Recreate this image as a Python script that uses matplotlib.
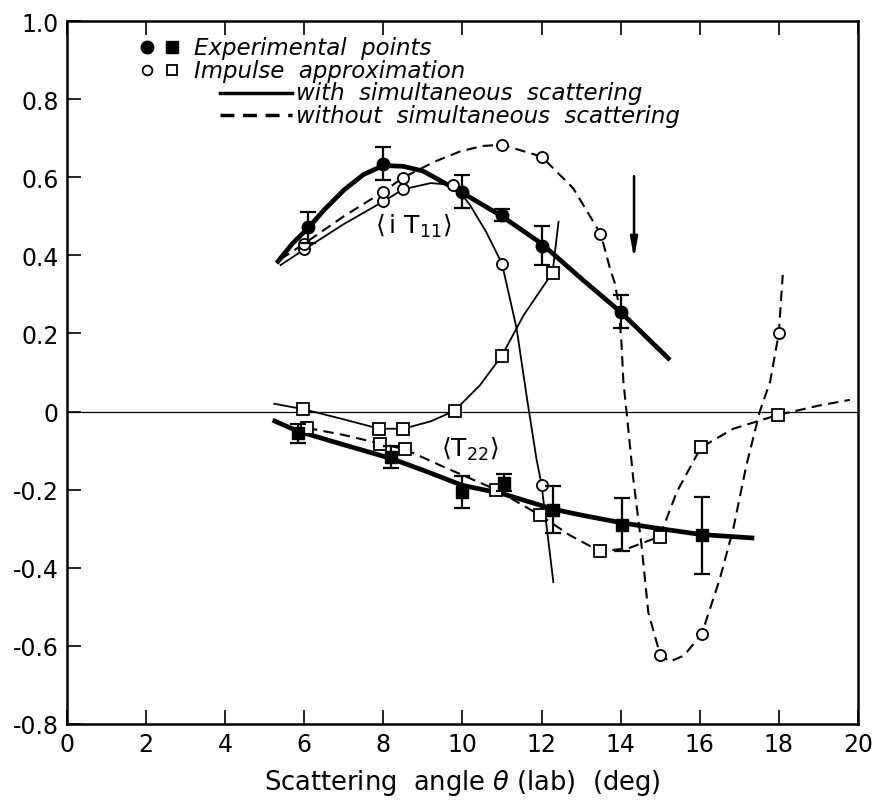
import numpy as np
import matplotlib
matplotlib.use("Agg")
import matplotlib.pyplot as plt

# experimental points
exp_it11_x = [6.1, 8.0, 10.0, 11.0, 12.0, 14.0]
exp_it11_y = [0.472, 0.635, 0.563, 0.503, 0.425, 0.256]
exp_it11_err = [0.04, 0.042, 0.043, 0.015, 0.05, 0.042]

exp_t22_x = [5.83, 8.19, 10.0, 11.06, 12.3, 14.03, 16.05]
exp_t22_y = [-0.056, -0.116, -0.206, -0.182, -0.251, -0.29, -0.317]
exp_t22_err = [0.025, 0.028, 0.04, 0.021, 0.06, 0.068, 0.098]

# thick fit curves through experimental points
fit_it11_x = [5.3, 5.7, 6.1, 6.5, 7.0, 7.5, 8.0, 8.5, 9.0, 10.0, 11.0, 12.0, 13.0, 14.0, 15.25]
fit_it11_y = [0.38, 0.43, 0.47, 0.516, 0.567, 0.607, 0.63, 0.628, 0.616, 0.56, 0.50, 0.43, 0.341, 0.255, 0.132]
fit_t22_x = [5.2, 5.83, 7.0, 8.19, 9.0, 10.0, 11.0, 12.3, 13.0, 14.03, 15.0, 16.05, 17.38]
fit_t22_y = [-0.022, -0.05, -0.085, -0.12, -0.15, -0.189, -0.21, -0.25, -0.265, -0.285, -0.30, -0.315, -0.324]

# impulse approximation, with simultaneous scattering (solid)
ia_with_it11_x = [5.4, 6.0, 7.0, 8.0, 8.5, 9.2, 9.8, 10.19, 10.6, 11.0, 11.37, 11.62, 11.87, 12.0, 12.3]
ia_with_it11_y = [0.375, 0.415, 0.48, 0.538, 0.569, 0.585, 0.58, 0.529, 0.46, 0.379, 0.213, 0.042, -0.12, -0.187, -0.437]
ia_with_it11_px = [6.0, 8.0, 8.5, 9.77, 11.0, 12.0]
ia_with_it11_py = [0.415, 0.538, 0.569, 0.58, 0.379, -0.187]

ia_with_t22_x = [5.24, 5.98, 7.0, 7.9, 8.51, 9.2, 9.8, 10.44, 10.99, 11.55, 12.28, 12.43]
ia_with_t22_y = [0.02, 0.006, -0.02, -0.044, -0.044, -0.025, 0.002, 0.067, 0.142, 0.247, 0.356, 0.486]
ia_with_t22_px = [5.98, 7.9, 8.51, 9.8, 10.99, 12.28]
ia_with_t22_py = [0.006, -0.044, -0.044, 0.002, 0.142, 0.356]

# impulse approximation, without simultaneous scattering (dashed)
ia_wo_it11_x = [5.4, 6.0, 7.0, 8.0, 8.5, 9.3, 9.94, 10.5, 11.0, 12.0, 12.8, 13.5, 13.73, 13.85, 13.94, 14.02, 14.07,
                14.15, 14.32, 14.53, 14.7, 15.0, 15.25, 15.6, 16.05, 16.51, 16.85, 17.18, 17.52, 17.78, 18.0, 18.1]
ia_wo_it11_y = [0.39, 0.43, 0.50, 0.563, 0.599, 0.64, 0.666, 0.68, 0.683, 0.653, 0.572, 0.454, 0.367, 0.33, 0.281, 0.18, 0.076,
                0.0, -0.172, -0.343, -0.514, -0.623, -0.64, -0.625, -0.57, -0.428, -0.3, -0.138, 0.0, 0.076, 0.2, 0.35]
ia_wo_it11_px = [6.0, 8.0, 8.5, 11.0, 12.0, 13.47, 15.0, 16.05, 18.0]
ia_wo_it11_py = [0.43, 0.563, 0.599, 0.683, 0.653, 0.454, -0.623, -0.57, 0.2]

ia_wo_t22_x = [6.07, 7.0, 7.92, 8.55, 9.6, 10.85, 11.97, 12.72, 13.48, 14.2, 14.99, 15.42, 16.03, 16.85, 17.97, 19.0, 19.8]
ia_wo_t22_y = [-0.042, -0.06, -0.082, -0.097, -0.145, -0.2, -0.266, -0.317, -0.358, -0.35, -0.32, -0.206, -0.092, -0.044, -0.009, 0.015, 0.03]
ia_wo_t22_px = [6.07, 7.92, 8.55, 10.85, 11.97, 13.48, 14.99, 16.03, 17.97]
ia_wo_t22_py = [-0.042, -0.082, -0.097, -0.2, -0.266, -0.358, -0.32, -0.092, -0.009]

x_ticks = [0, 2, 4, 6, 8, 10, 12, 14, 16, 18, 20]
y_ticks = [-0.8, -0.6, -0.4, -0.2, 0, 0.2, 0.4, 0.6, 0.8, 1.0]
y_labels = ["-0.8", "-0.6", "-0.4", "-0.2", "0", "0.2", "0.4", "0.6", "0.8", "1.0"]

fig = plt.figure(figsize=(8.72, 8.04), dpi=100)
ax = fig.add_axes([0.0768, 0.0983, 0.907, 0.8743])

ax.axhline(0, color="black", lw=0.9)

# thin impulse curves
ax.plot(ia_with_it11_x, ia_with_it11_y, "k-", lw=1.3)
ax.plot(ia_with_t22_x, ia_with_t22_y, "k-", lw=1.3)
ax.plot(ia_wo_it11_x, ia_wo_it11_y, "k--", lw=1.5, dashes=(5, 3))
ax.plot(ia_wo_t22_x, ia_wo_t22_y, "k--", lw=1.5, dashes=(5, 3))

# thick fits
ax.plot(fit_it11_x, fit_it11_y, "k-", lw=3.4, solid_capstyle="butt", solid_joinstyle="round")
ax.plot(fit_t22_x, fit_t22_y, "k-", lw=3.4, solid_capstyle="butt", solid_joinstyle="round")

# open markers
ms = 8
for px, py, m in [(ia_with_it11_px, ia_with_it11_py, "o"), (ia_wo_it11_px, ia_wo_it11_py, "o"),
                  (ia_with_t22_px, ia_with_t22_py, "s"), (ia_wo_t22_px, ia_wo_t22_py, "s")]:
    ax.plot(px, py, m, ms=ms, mfc="white", mec="black", mew=1.3, ls="none", zorder=4)

# experimental points
ax.errorbar(exp_it11_x, exp_it11_y, yerr=exp_it11_err, fmt="o", color="black", ms=9,
            capsize=6, elinewidth=1.6, capthick=1.6, zorder=5)
ax.errorbar(exp_t22_x, exp_t22_y, yerr=exp_t22_err, fmt="s", color="black", ms=8.5,
            capsize=6, elinewidth=1.6, capthick=1.6, zorder=5)

# arrow
ax.annotate("", xy=(14.34, 0.385), xytext=(14.34, 0.61),
            arrowprops=dict(arrowstyle="-|>,head_length=1.2,head_width=0.22", color="black", lw=1.8))

# curve labels
ax.text(8.77, 0.477, r"$\langle\,$i T$_{11}\rangle$", fontsize=18, ha="center", va="center")
ax.text(10.2, -0.095, r"$\langle$T$_{22}\rangle$", fontsize=18, ha="center", va="center")

# legend drawn by hand
tr = ax.transAxes
fs = 16.5
ax.plot([0.101], [0.963], "o", color="black", ms=9, transform=tr)
ax.plot([0.133], [0.963], "s", color="black", ms=8, transform=tr)
ax.text(0.160, 0.963, "Experimental  points", style="italic", fontsize=fs, va="center", transform=tr)
ax.plot([0.101], [0.930], "o", mfc="white", mec="black", mew=1.3, ms=7, transform=tr)
ax.plot([0.133], [0.930], "s", mfc="white", mec="black", mew=1.3, ms=7, transform=tr)
ax.text(0.160, 0.930, "Impulse  approximation", style="italic", fontsize=fs, va="center", transform=tr)
ax.plot([0.193, 0.285], [0.898, 0.898], "k-", lw=2.5, transform=tr)
ax.text(0.289, 0.898, "with  simultaneous  scattering", style="italic", fontsize=fs, va="center", transform=tr)
ax.plot([0.193, 0.285], [0.866, 0.866], "k--", lw=2.5, dashes=(4, 2.5), transform=tr)
ax.text(0.289, 0.866, "without  simultaneous  scattering", style="italic", fontsize=fs, va="center", transform=tr)

ax.set_xlim(0, 20)
ax.set_ylim(-0.8, 1.0)
ax.set_xticks(x_ticks)
ax.set_yticks(y_ticks)
ax.set_yticklabels(y_labels)
ax.tick_params(direction="in", length=10, width=1.2, labelsize=17, top=True, right=False, pad=6)
for s in ax.spines.values():
    s.set_linewidth(1.8)
ax.set_xlabel(r"Scattering  angle $\theta$ (lab)  (deg)", fontsize=18.5, labelpad=8)

fig.savefig("out.png", dpi=100)
